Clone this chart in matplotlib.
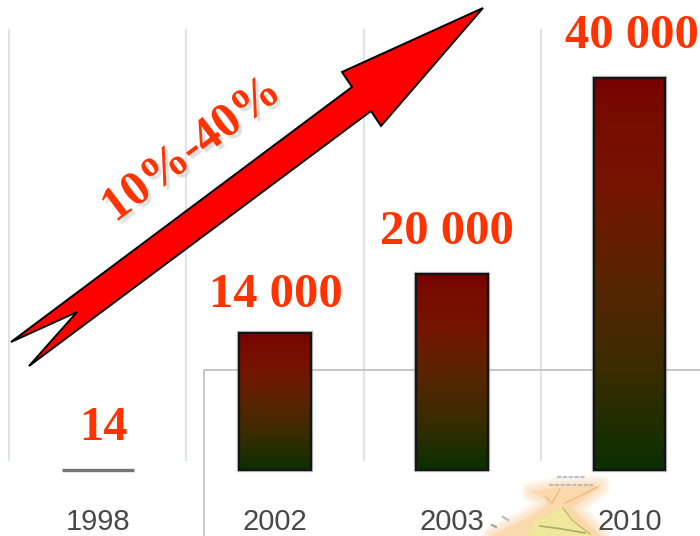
import numpy as np
import matplotlib
matplotlib.use("Agg")
import matplotlib.pyplot as plt
from matplotlib.colors import LinearSegmentedColormap
from matplotlib.patches import Polygon, Rectangle
import matplotlib.patheffects as pe

years = ["1998", "2002", "2003", "2010"]
values = [14, 14000, 20000, 40000]
value_labels = ["14", "14 000", "20 000", "40 000"]
growth_label = "10%-40%"

W, H = 700, 536
fig = plt.figure(figsize=(W / 100, H / 100), dpi=100)
ax = fig.add_axes([0, 0, 1, 1])

# category spacing and value scale in pixels
x0, dx = 97.6, 177.3
y0, yscale = 470.0, 392.0 / 40000
xlim = (-x0 / dx, (W - x0) / dx)
ylim = (-(H - y0) / yscale, y0 / yscale)
ax.axis("off")

# helper transform: pixel positions counted from the top left corner
px = matplotlib.transforms.Affine2D().scale(1.0 / W, -1.0 / H).translate(0, 1) + ax.transAxes

# vertical grid between the categories
for i in range(4):
    gx = x0 + dx * (i - 0.5)
    ax.plot([gx, gx], [30, 460], transform=px, color="#dde5e9", lw=1.6, zorder=1)

# inset frame behind the bars
ax.plot([204, 204, 700], [536, 370, 370], transform=px, color="#c2c2c6", lw=1.3, zorder=1.5)


def soft_poly(pts, color, width, z):
    # polygon with a faded rim, built from wider and wider translucent strokes
    glow = [pe.withStroke(linewidth=w, foreground=color, alpha=0.12, joinstyle="round")
            for w in range(width, 0, -2)]
    p = Polygon(pts, closed=True, transform=px, fc=color, ec="none", zorder=z)
    p.set_path_effects(glow + [pe.Normal()])
    ax.add_patch(p)


# small map under the last labels
soft_poly([(532, 492), (555, 488), (600, 486), (586, 497), (572, 508), (600, 536),
           (492, 536), (525, 520), (548, 505), (545, 498)], "#fad9ac", 16, 1.6)
soft_poly([(563, 509), (590, 536), (527, 536), (535, 522)], "#eee79c", 6, 1.7)
ax.plot([560, 552, 546], [489, 503, 497], transform=px, color="#efb980", lw=1, zorder=1.8)
ax.plot([565, 580, 597], [503, 496, 487], transform=px, color="#efb980", lw=1, zorder=1.8)
ax.plot([563, 572, 590], [508, 520, 534], transform=px, color="#d8b070", lw=1, zorder=1.8)
ax.plot([540, 562, 585], [526, 529, 533], transform=px, color="#a8b060", lw=1.2, zorder=1.8)
# caption and specks of the map, too small to read
ax.plot([557, 586], [477, 477], transform=px, color="#b9c2d4", lw=1.6, ls=(0, (2, 0.6)), zorder=1.8)
ax.plot([549, 593], [485, 485], transform=px, color="#c8b8a8", lw=1.6, ls=(0, (2, 0.6)), zorder=1.8)
ax.plot([503, 508], [517, 520], transform=px, color="#b8bcc4", lw=1.6, zorder=1.8)
ax.plot([492, 496], [525, 527], transform=px, color="#a8a8a8", lw=1.6, zorder=1.8)

cmap = LinearSegmentedColormap.from_list(
    "bar", [(0, "#0a3000"), (0.255, "#3a2c00"), (0.5, "#5a2400"), (0.73, "#761400"), (0.93, "#780a00"), (1, "#780000")])
grad = np.linspace(0, 1, 256).reshape(-1, 1)
bar_w = 0.405

# pixel nudges of the value labels relative to their bars
label_dx = [6, 0.5, -5.5, 2]
label_gap = [30, 26, 30, 30]

for i, v in enumerate(values):
    left, right = i - bar_w / 2, i + bar_w / 2
    if v > 1000:
        # soft rim first, then the gradient and its dark edge on top
        ax.add_patch(Rectangle((left, 0), right - left, v, fc="none", ec="#9a9a9a", lw=3.2, alpha=0.5, zorder=1.9))
        ax.imshow(grad, cmap=cmap, origin="lower", aspect="auto",
                  extent=(left, right, 0, v), zorder=2, interpolation="bilinear")
        ax.add_patch(Rectangle((left, 0), right - left, v, fc="none", ec="#141414", lw=1.7, zorder=2.1))
    else:
        # tiny value: only the outline of the bar is visible
        ax.plot([left, right], [v, v], color="#757575", lw=2.4, zorder=2.1, solid_capstyle="butt")
    ax.annotate(value_labels[i], xy=(i, v), xytext=(label_dx[i] * 0.72, label_gap[i] * 0.72),
                textcoords="offset points", ha="center", va="baseline",
                family="Liberation Serif", weight="bold", fontsize=35, color="#ff3300", zorder=5)
    ax.text(i, -(530 - y0) / yscale, years[i], ha="center", va="baseline",
            family="Liberation Sans", fontsize=21, color="#484848", zorder=5)

ax.set_xlim(*xlim)
ax.set_ylim(*ylim)

# growth arrow
arrow_pts = [(483, 8), (342, 72), (352, 87), (11, 342), (77, 312), (29, 366), (371, 111), (381, 126)]
ax.add_patch(Polygon(arrow_pts, closed=True, transform=px, fc="#ff0000", ec="black", lw=1.4,
                     joinstyle="miter", zorder=4))

ax.text(192, 150, growth_label, transform=px, rotation=37, rotation_mode="anchor",
        ha="center", va="center", family="Liberation Serif", weight="bold", fontsize=35,
        color="#ff3300", zorder=5,
        path_effects=[pe.SimplePatchShadow(offset=(2.5, -2.5), shadow_rgbFace="#aaaaaa", alpha=0.35), pe.Normal()])

fig.savefig("out.png", dpi=100)
